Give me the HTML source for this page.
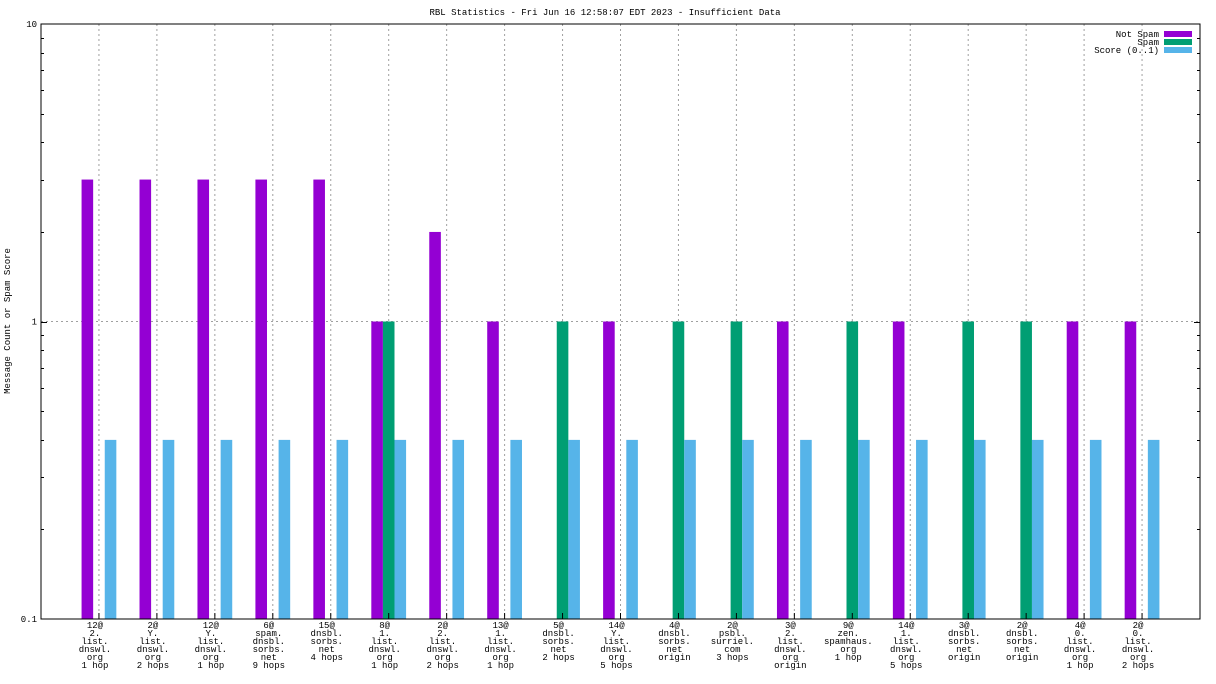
<!DOCTYPE html>
<html><head><meta charset="utf-8"><style>
html,body{margin:0;padding:0;background:#fff;}
svg{display:block;font-family:"Liberation Mono","DejaVu Sans Mono",monospace;font-size:9px;}
</style></head><body>
<svg id="chart" width="1216" height="684" xmlns="http://www.w3.org/2000/svg">
<text x="605" y="15" text-anchor="middle">RBL Statistics - Fri Jun 16 12:58:07 EDT 2023 - Insufficient Data</text>
<text transform="translate(10,321) rotate(-90)" text-anchor="middle">Message Count or Spam Score</text>
<g id="grid"></g><g id="bars"></g><g id="axes"></g><g id="labels"></g>
<g>
<g><text x="1159" y="37" text-anchor="end">Not Spam</text><rect x="1164" y="31" width="28" height="6" fill="#9400d3"/></g>
<g><text x="1159" y="45" text-anchor="end">Spam</text><rect x="1164" y="39" width="28" height="6" fill="#009e73"/></g>
<g><text x="1159" y="53" text-anchor="end">Score (0..1)</text><rect x="1164" y="47" width="28" height="6" fill="#56b4e9"/></g>
</g>
</svg>
<script>
const categories=[["12@","2.","list.","dnswl.","org","1 hop"],["2@","Y.","list.","dnswl.","org","2 hops"],["12@","Y.","list.","dnswl.","org","1 hop"],["6@","spam.","dnsbl.","sorbs.","net","9 hops"],["15@","dnsbl.","sorbs.","net","4 hops"],["8@","1.","list.","dnswl.","org","1 hop"],["2@","2.","list.","dnswl.","org","2 hops"],["13@","1.","list.","dnswl.","org","1 hop"],["5@","dnsbl.","sorbs.","net","2 hops"],["14@","Y.","list.","dnswl.","org","5 hops"],["4@","dnsbl.","sorbs.","net","origin"],["2@","psbl.","surriel.","com","3 hops"],["3@","2.","list.","dnswl.","org","origin"],["9@","zen.","spamhaus.","org","1 hop"],["14@","1.","list.","dnswl.","org","5 hops"],["3@","dnsbl.","sorbs.","net","origin"],["2@","dnsbl.","sorbs.","net","origin"],["4@","0.","list.","dnswl.","org","1 hop"],["2@","0.","list.","dnswl.","org","2 hops"]];
const notSpam=[3,3,3,3,3,1,2,1,0,1,0,0,1,0,1,0,0,1,1];
const spam=[0,0,0,0,0,1,0,0,1,0,1,1,0,1,0,1,1,0,0];
const score=[0.4,0.4,0.4,0.4,0.4,0.4,0.4,0.4,0.4,0.4,0.4,0.4,0.4,0.4,0.4,0.4,0.4,0.4,0.4];
const yTicks=[0.1,1,10];
const yTickLabels=["0.1","1","10"];
const NS="http://www.w3.org/2000/svg";
const L=41,R=1200,T=24,B=619;
const yMin=0.1,yMax=10;
function y(v){return B-(Math.log10(v)-Math.log10(yMin))/(Math.log10(yMax)-Math.log10(yMin))*(B-T);}
const step=(R-L)/(categories.length+1);
function x(i){return L+(i+1)*step;}
function mk(tag,attrs,parent){const e=document.createElementNS(NS,tag);for(const k in attrs)e.setAttribute(k,attrs[k]);parent.appendChild(e);return e;}
const grid=document.getElementById('grid'),bars=document.getElementById('bars'),axes=document.getElementById('axes'),labels=document.getElementById('labels');
categories.forEach((c,i)=>{const g=mk('line',{x1:x(i),x2:x(i),y1:T,y2:B,stroke:'#a0a0a0','stroke-dasharray':'2,3','stroke-width':1},grid);

});
yTicks.forEach(v=>{if(v>yMin&&v<yMax){const g=mk('line',{x1:L,x2:R,y1:y(v),y2:y(v),stroke:'#a0a0a0','stroke-dasharray':'2,3'},grid);

}});
const bw=step/5;
function bar(v,i,off,color,name){if(!(v>0))return;const yy=y(v);const r=mk('rect',{x:x(i)+off-bw/2,y:yy,width:bw,height:B-yy,fill:color},bars);

}
categories.forEach((c,i)=>{bar(notSpam[i],i,-bw,'#9400d3','bar-not-spam');bar(spam[i],i,0,'#009e73','bar-spam');bar(score[i],i,bw,'#56b4e9','bar-score');});
const frame=mk('rect',{x:L,y:T,width:R-L,height:B-T,fill:'none',stroke:'#000'},axes);


for(let d=0.1;d<10;d*=10){for(let k=1;k<10;k++){const v=d*k;if(v<=yMin||v>=yMax)continue;const len=(k===1)?6:3;const yy=Math.round(y(v))+0.5;
mk('line',{x1:L,x2:L+len,y1:yy,y2:yy,stroke:'#000'},axes);mk('line',{x1:R-len,x2:R,y1:yy,y2:yy,stroke:'#000'},axes);}}
yTicks.forEach((v,j)=>{const t=mk('text',{x:L-4,y:y(v)+3,'text-anchor':'end'},labels);t.textContent=yTickLabels[j];

});
categories.forEach((c,i)=>{mk('line',{x1:x(i),x2:x(i),y1:B-6,y2:B,stroke:'#000'},axes);
const t=mk('text',{x:x(i)-4,y:B+9,'text-anchor':'middle'},labels);


c.forEach((line,k)=>{const s=mk('tspan',{x:x(i)-4,dy:k===0?0:8},t);s.textContent=line;});});
</script>
</body></html>
